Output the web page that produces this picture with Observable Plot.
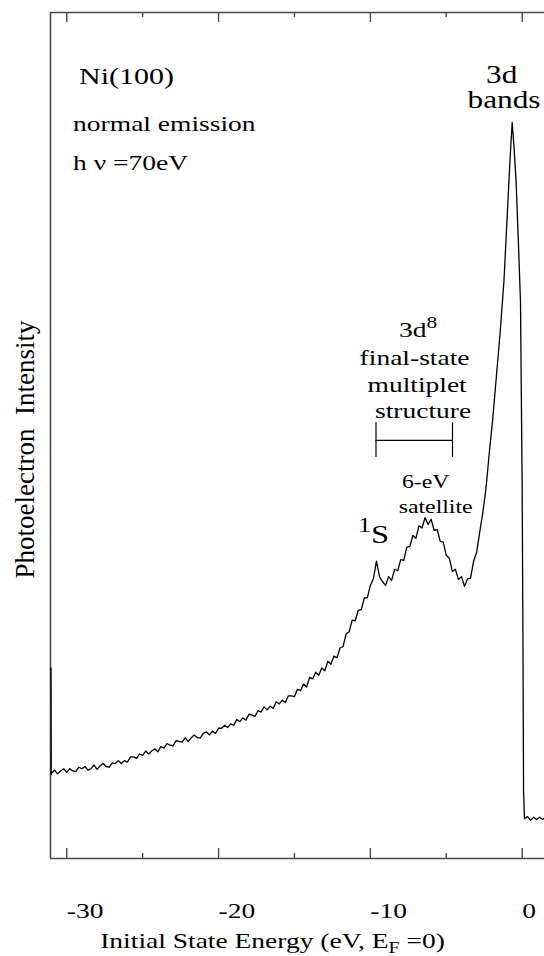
<!DOCTYPE html>
<html><head><meta charset="utf-8">
<script src="https://cdn.jsdelivr.net/npm/d3@7"></script>
<script src="https://cdn.jsdelivr.net/npm/@observablehq/plot@0.6"></script>
<style>
html,body{margin:0;padding:0;background:#fff;}
</style>
</head><body><div id="chart"></div>
<script>
// Initial state energy (eV) and photoelectron intensity (arb. units, 3d peak = 100)
const energy = [
-31.04,-31.02,
-31.0,-30.8,-30.6,-30.4,-30.2,-30.0,-29.8,-29.6,-29.4,-29.2,-29.0,-28.8,-28.6,-28.4,-28.2,-28.0,-27.8,-27.6,-27.4,-27.2,
-27.0,-26.8,-26.6,-26.4,-26.2,-26.0,-25.8,-25.6,-25.4,-25.2,-25.0,-24.8,-24.6,-24.4,-24.2,-24.0,-23.8,-23.6,-23.4,-23.2,
-23.0,-22.8,-22.6,-22.4,-22.2,-22.0,-21.8,-21.6,-21.4,-21.2,-21.0,-20.8,-20.6,-20.4,-20.2,-20.0,-19.8,-19.6,-19.4,-19.2,
-19.0,-18.8,-18.6,-18.4,-18.2,-18.0,-17.8,-17.6,-17.4,-17.2,-17.0,-16.8,-16.6,-16.4,-16.2,-16.0,-15.8,-15.6,-15.4,-15.2,
-15.0,-14.8,-14.6,-14.4,-14.2,-14.0,-13.8,-13.6,-13.4,-13.2,-13.0,-12.8,-12.6,-12.4,-12.2,-12.0,-11.8,-11.6,-11.4,-11.2,
-11.0,-10.8,-10.6,-10.4,-10.2,-10.0,-9.8,-9.6,-9.4,-9.2,-9.0,-8.8,-8.6,-8.4,-8.2,-8.0,-7.8,-7.6,-7.4,-7.2,
-7.0,-6.8,-6.6,-6.4,-6.2,-6.0,-5.8,-5.6,-5.4,-5.2,-5.0,-4.8,-4.6,-4.4,-4.2,-4.0,-3.8,-3.6,-3.4,-3.2,
-3.0,-2.8,-2.6,
-2.45,-2.35,-2.15,-1.95,-1.70,-1.45,-1.20,-0.97,-0.80,-0.66,-0.55,-0.40,-0.22,-0.11,0.00,0.05,
0.09,0.15,0.35,0.55,0.75,0.95,1.15,1.35,1.47
];
const intensity = [
25.9,11.4,
11.6,12.0,11.5,11.9,12.2,11.7,12.2,11.9,11.8,12.4,12.2,12.5,12.0,12.2,12.7,12.1,12.6,12.9,12.5,12.4,
13.0,12.9,13.3,12.9,13.3,13.1,13.8,13.8,13.6,14.2,14.0,14.6,14.2,14.6,14.9,14.5,15.2,15.0,15.6,15.4,
15.3,16.0,15.9,15.8,16.4,15.9,16.4,16.8,16.4,16.4,17.0,17.2,16.8,17.3,17.0,17.7,17.7,18.1,17.8,18.3,
18.1,18.9,18.6,19.1,18.8,19.6,19.5,19.3,20.1,19.9,20.6,20.2,20.7,20.4,21.3,21.0,21.5,21.2,22.1,22.1,
22.0,23.0,22.8,23.7,23.3,24.6,24.4,25.3,24.9,25.9,25.5,26.8,26.4,27.5,27.3,28.6,28.8,30.5,30.8,32.4,
32.3,33.7,33.8,35.4,35.4,37.1,38.0,40.4,38.3,37.6,37.1,38.3,37.8,39.3,39.1,40.6,40.5,42.3,42.4,43.9,
43.5,45.2,44.9,46.3,45.4,46.1,44.6,44.7,43.1,43.0,41.2,40.8,39.0,39.3,37.9,38.3,37.0,38.0,38.1,40.4,
41.6,44.3,46.9,
49.2,51.0,55.5,59.5,65.5,71.5,78.5,88.0,95.0,100.0,97.0,92.0,82.0,75.5,50.0,30.0,
9.2,5.4,5.7,5.2,5.6,5.3,5.6,5.3,5.5
];
const majorTicks = [-30, -20, -10, 0];
const minorTicks = [-25, -15, -5];
const xTitle = "Initial State Energy (eV, E_{F} =0)";
const yTitle = "Photoelectron\u00a0 Intensity";

// annotation texts
const leftNotes = [
  {text: "Ni(100)", x: -29.19, y: 105.2, size: 24},
  {text: "normal emission", x: -29.58, y: 98.8, size: 22},
  {text: "h \u03bd =70eV", x: -29.58, y: 93.5, size: 22}
];
const centerNotes = [
  {text: "3d", x: -1.35, y: 105.4, size: 25},
  {text: "bands", x: -1.2, y: 102.0, size: 25},
  {text: "3d^{8}", x: -6.86, y: 70.8, size: 22},
  {text: "final-state", x: -7.09, y: 67.0, size: 22},
  {text: "multiplet", x: -6.92, y: 63.45, size: 22},
  {text: "structure", x: -6.53, y: 59.8, size: 22},
  {text: "6-eV", x: -6.36, y: 50.3, size: 19},
  {text: "satellite", x: -5.7, y: 47.0, size: 19},
  {text: "^{1}S", x: -9.78, y: 42.9, size: 26}
];
const bracket = {x1: -9.63, x2: -4.59, y: 56.8, y1: 54.5, y2: 59.2};

const data = energy.map((e, i) => ({e, v: intensity[i]}));
const xDomain = [-31.07, 1.47];
const yDomain = [0, 114.95];
const frameColor = "#4a4a4a";
const FONT = "'Liberation Serif', Tinos, 'Times New Roman', Times, serif";

const chart = Plot.plot({
  width: 544, height: 956,
  marginLeft: 50, marginRight: 0, marginTop: 12, marginBottom: 98,
  style: {background: "#fff", color: "#000", fontFamily: FONT},
  x: {domain: xDomain, axis: null},
  y: {domain: yDomain, axis: null},
  marks: [
    Plot.ruleY([yDomain[0]], {stroke: frameColor, strokeWidth: 1.6}),
    Plot.ruleY([yDomain[1]], {stroke: frameColor, strokeWidth: 1.6}),
    Plot.ruleX([xDomain[0]], {stroke: frameColor, strokeWidth: 1.6}),
    Plot.ruleX(majorTicks, {x: d => d, insetTop: 836, stroke: frameColor, strokeWidth: 1.4}),
    Plot.ruleX(majorTicks, {x: d => d, insetBottom: 836, stroke: frameColor, strokeWidth: 1.4}),
    Plot.ruleX(minorTicks, {x: d => d, insetTop: 841, stroke: frameColor, strokeWidth: 1.4}),
    Plot.ruleX(minorTicks, {x: d => d, insetBottom: 841, stroke: frameColor, strokeWidth: 1.4}),
    Plot.line(data, {x: "e", y: "v", stroke: "#000", strokeWidth: 1.3, curve: "linear"}),
    Plot.ruleY([bracket.y], {x1: bracket.x1, x2: bracket.x2, stroke: "#000", strokeWidth: 1.2}),
    Plot.ruleX([bracket.x1, bracket.x2], {x: d => d, y1: bracket.y1, y2: bracket.y2, stroke: "#000", strokeWidth: 1.2}),
    Plot.text(majorTicks, {x: d => d, text: d => String(d), frameAnchor: "bottom", dy: 59, lineAnchor: "bottom", textAnchor: "start", fontSize: 22, fill: "#000"}),
    Plot.text([xTitle], {text: d => d, frameAnchor: "bottom", dx: -25, dy: 89, lineAnchor: "bottom", textAnchor: "middle", fontSize: 22, fill: "#000"}),
    Plot.text([yTitle], {text: d => d, frameAnchor: "left", dx: -25, dy: 14, rotate: -90, textAnchor: "middle", lineAnchor: "middle", fontSize: 27, fill: "#000"}),
    Plot.text(leftNotes, {x: "x", y: "y", text: "text", fontSize: "size", textAnchor: "start", lineAnchor: "bottom", fill: "#000"}),
    Plot.text(centerNotes, {x: "x", y: "y", text: "text", fontSize: "size", textAnchor: "middle", lineAnchor: "bottom", fill: "#000"})
  ]
});
document.getElementById("chart").append(chart);

// rich text (super/subscripts) and horizontal glyph stretch of the original
const SX = 1.25;
const NS = "http://www.w3.org/2000/svg";
for (const t of chart.querySelectorAll("text")) {
  t.style.fontFamily = FONT;
  const raw = t.textContent;
  const fs = parseFloat(getComputedStyle(t).fontSize) || 22;
  if (/[\^_]\{/.test(raw)) {
    while (t.firstChild) t.removeChild(t.firstChild);
    const parts = raw.split(/([\^_]\{[^}]*\})/).filter(s => s.length);
    let shift = 0;
    for (const p of parts) {
      const ts = document.createElementNS(NS, "tspan");
      let target = 0, txt = p, size = null;
      if (p.startsWith("^{")) { target = -0.42 * fs; txt = p.slice(2, -1); size = 0.78 * fs; }
      else if (p.startsWith("_{")) { target = 0.27 * fs; txt = p.slice(2, -1); size = 0.72 * fs; }
      const dy = target - shift;
      if (dy) ts.setAttribute("dy", dy);
      shift = target;
      if (size) ts.setAttribute("font-size", size);
      ts.textContent = txt;
      t.appendChild(ts);
    }
  }
  if (raw.startsWith("Photoelectron")) continue;
  const tr = t.getAttribute("transform") || "";
  t.setAttribute("transform", (tr + ` scale(${SX},1)`).trim());
}
</script>
</body></html>
